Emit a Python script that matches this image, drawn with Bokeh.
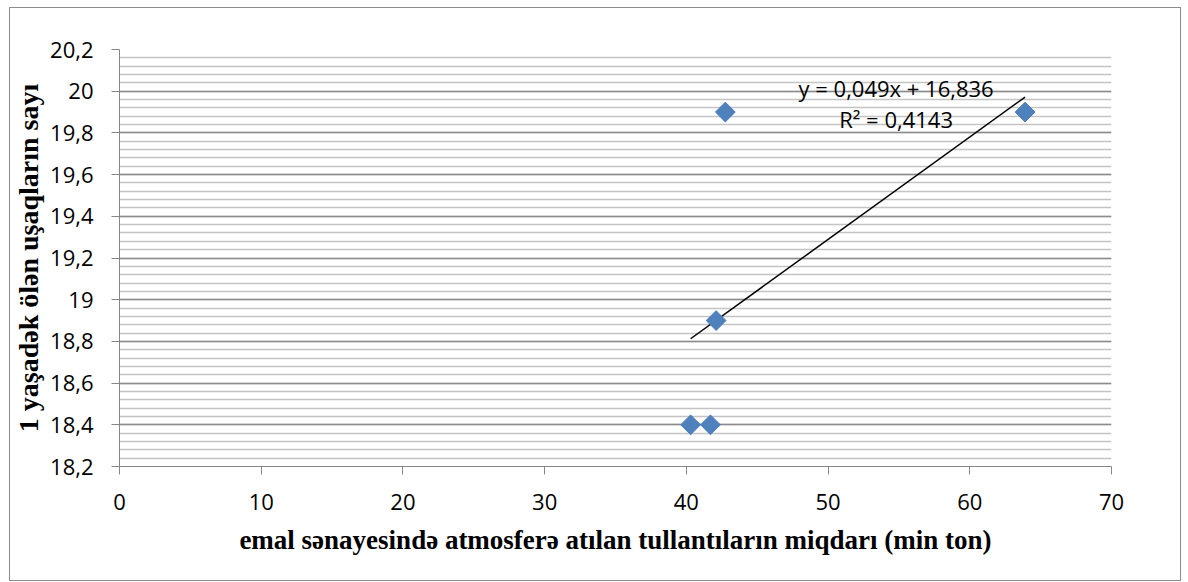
import numpy as np
from bokeh.plotting import figure
from bokeh.models import FixedTicker, Label, Range1d
from bokeh.embed import file_html
from bokeh.resources import INLINE

# data
x_vals = [40.3, 41.7, 42.1, 42.75, 63.9]
y_vals = [18.4, 18.4, 18.9, 19.9, 19.9]
x_ticks = [0, 10, 20, 30, 40, 50, 60, 70]
x_tick_labels = ["0", "10", "20", "30", "40", "50", "60", "70"]
y_ticks = [18.2, 18.4, 18.6, 18.8, 19.0, 19.2, 19.4, 19.6, 19.8, 20.0, 20.2]
y_tick_labels = ["18,2", "18,4", "18,6", "18,8", "19", "19,2", "19,4", "19,6", "19,8", "20", "20,2"]
y_minor_ticks = [round(18.2 + 0.04 * i, 2) for i in range(51)]
eq_text = "y = 0,049x + 16,836"
r2_text = "R² = 0,4143"
x_title = "emal sənayesində atmosferə atılan tullantıların miqdarı (min ton)"
y_title = "1 yaşadək ölən uşaqların sayı"

p = figure(width=1172, height=574, output_backend="svg", toolbar_location=None,
           x_range=Range1d(0, 70), y_range=Range1d(18.2, 20.2),
           min_border_left=109, min_border_right=71, min_border_top=41, min_border_bottom=116)
p.margin = (7, 0, 0, 9)
p.styles = {"border": "1px solid #8c8c8c", "box-sizing": "border-box"}
p.outline_line_color = None
p.background_fill_color = "white"
p.border_fill_color = "white"

# axes
tick_font = "Open Sans"
for ax in (p.xaxis[0], p.yaxis[0]):
    ax.axis_line_color = "#868686"
    ax.major_tick_line_color = "#868686"
    ax.major_tick_in = 0
    ax.major_tick_out = 8
    ax.minor_tick_line_color = None
    ax.major_label_text_font = tick_font
    ax.major_label_text_font_size = "22px"
    ax.major_label_text_color = "black"
    ax.axis_label_text_font = "Liberation Serif"
    ax.axis_label_text_font_style = "bold"
    ax.axis_label_text_color = "black"

p.xaxis.ticker = FixedTicker(ticks=x_ticks)
p.xaxis.major_label_overrides = {t: l for t, l in zip(x_ticks, x_tick_labels)}
p.xaxis.major_label_standoff = 19
p.xaxis.axis_label = x_title
p.xaxis.axis_label_text_font_size = "27px"
p.xaxis.axis_label_standoff = 12

p.yaxis.ticker = FixedTicker(ticks=y_ticks, minor_ticks=y_minor_ticks)
p.yaxis.major_label_overrides = {t: l for t, l in zip(y_ticks, y_tick_labels)}
p.yaxis.major_label_standoff = 18
p.yaxis.axis_label = y_title
p.yaxis.axis_label_text_font_size = "28px"
p.yaxis.axis_label_standoff = 3

# grid
p.xgrid.grid_line_color = None
p.ygrid.grid_line_color = "#8c8c8c"
p.ygrid.grid_line_width = 1.5
p.ygrid.minor_grid_line_color = "#c4c4c4"
p.ygrid.minor_grid_line_width = 1.5

# trend line
slope, intercept = np.polyfit(x_vals, y_vals, 1)
tx = np.array([min(x_vals), max(x_vals)])
p.line(tx, slope * tx + intercept, line_color="black", line_width=1.5)

# points
p.scatter(x_vals, y_vals, marker="square", size=14, angle=np.pi / 4,
          fill_color="#4F81BD", line_color="#4A7EBB")

# equation labels
p.add_layout(Label(x=54.8, y=20.013, text=eq_text, text_align="center", text_baseline="middle",
                   text_font=tick_font, text_font_size="22px", text_color="black"))
p.add_layout(Label(x=54.8, y=19.865, text=r2_text, text_align="center", text_baseline="middle",
                   text_font=tick_font, text_font_size="22px", text_color="black"))

open("out.html", "w").write(file_html(p, INLINE))
